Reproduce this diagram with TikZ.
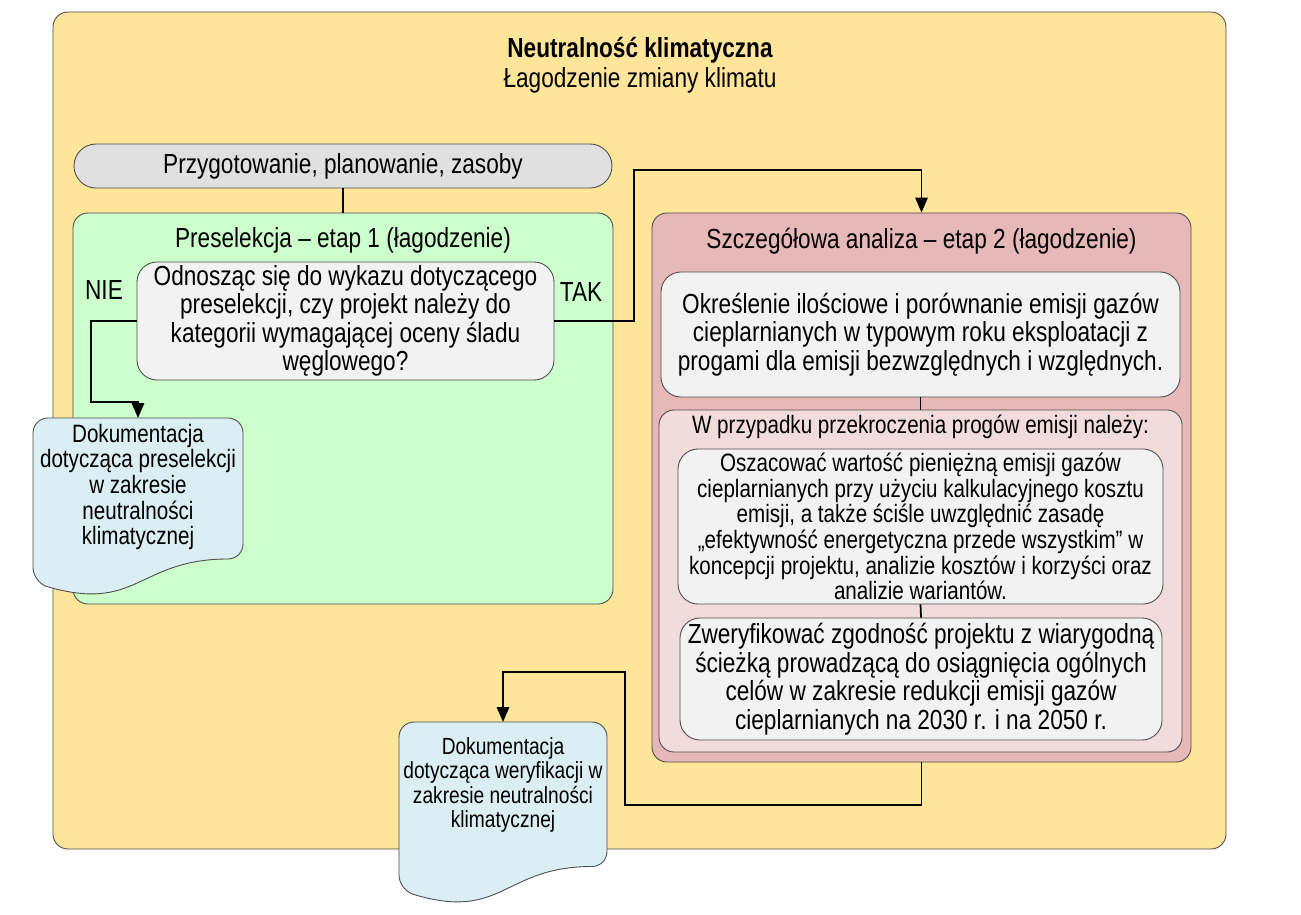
\documentclass[tikz,border=0pt]{standalone}
\usepackage{fontspec}
\setmainfont{Liberation Sans}[FakeStretch=0.82]
\usepackage{xcolor}
\usepackage{tikz}
\usetikzlibrary{positioning, arrows.meta, calc}

\definecolor{climatefill}{HTML}{FFE599}
\definecolor{prepfill}{HTML}{E0E0E0}
\definecolor{stage1fill}{HTML}{CCFFCC}
\definecolor{stage2fill}{HTML}{E6B9B8}
\definecolor{stepsfill}{HTML}{F2DCDB}
\definecolor{boxfill}{HTML}{F2F2F2}
\definecolor{docfill}{HTML}{DBEEF4}

\begin{document}
\begin{tikzpicture}[
    >={Triangle[length=0.3cm, width=0.25cm]},
    titletext/.style={font=\fontsize{15.7}{16.2}\selectfont\bfseries},
    bigtext/.style={font=\fontsize{15.7}{16.2}\selectfont},
    midtext/.style={font=\fontsize{14.3}{14.6}\selectfont},
    smalltext/.style={font=\fontsize{13.3}{14}\selectfont},
    panel/.style={rectangle, draw=gray!60!black, line width=0.5pt, rounded corners=0.3cm, inner sep=0pt},
    outerpanel/.style={panel, fill=climatefill},
    preppanel/.style={panel, fill=prepfill, rounded corners=0.44cm},
    stage1panel/.style={panel, fill=stage1fill},
    stage2panel/.style={panel, fill=stage2fill},
    stepspanel/.style={panel, fill=stepsfill},
    textbox/.style={panel, fill=boxfill, rounded corners=0.4cm, align=center},
    docsheet/.style={draw=gray!60!black, line width=0.5pt, fill=docfill, rounded corners=0.3cm},
    link/.style={line width=1pt}
]
\useasboundingbox (0,0) rectangle (26.02,-18.28);

% Outer frame and title
\node[outerpanel, minimum width=23.46cm, minimum height=16.74cm] (climate) at (12.79,-8.61) {};
\node[titletext] (title) at (12.8,-1.0) {Neutralność klimatyczna};
\node[bigtext] (subtitle) at (12.8,-1.6) {Łagodzenie zmiany klimatu};

% Preparation
\node[preppanel, bigtext, minimum width=10.76cm, minimum height=0.88cm] (prep) at (6.86,-3.32) {Przygotowanie, planowanie, zasoby};

% Stage 1
\node[stage1panel, minimum width=10.8cm, minimum height=7.82cm] (stage1) at (6.86,-8.17) {};
\node[bigtext] (stage1title) at (6.86,-4.8) {Preselekcja – etap 1 (łagodzenie)};
\node[textbox, bigtext, minimum width=8.34cm, minimum height=2.36cm] (question) at (6.91,-6.42)
    {Odnosząc się do wykazu dotyczącego\\ preselekcji, czy projekt należy do\\ kategorii wymagającej oceny śladu\\ węglowego?};
\node[bigtext] (nie) at (2.08,-5.8) {NIE};
\node[bigtext] (tak) at (11.62,-5.84) {TAK};

% Stage 2
\node[stage2panel, minimum width=10.78cm, minimum height=10.98cm] (stage2) at (18.43,-9.75) {};
\node[bigtext] (stage2title) at (18.43,-4.82) {Szczegółowa analiza – etap 2 (łagodzenie)};
\node[textbox, bigtext, minimum width=10.38cm, minimum height=2.5cm] (quant) at (18.41,-6.69)
    {Określenie ilościowe i porównanie emisji gazów\\ cieplarnianych w typowym roku eksploatacji z\\ progami dla emisji bezwzględnych i względnych.};
\node[stepspanel, minimum width=10.46cm, minimum height=6.84cm] (steps) at (18.41,-11.62) {};
\node[midtext] (stepstitle) at (18.41,-8.54) {W przypadku przekroczenia progów emisji należy:};
\node[textbox, midtext, minimum width=9.7cm, minimum height=3.1cm] (cost) at (18.41,-10.53)
    {Oszacować wartość pieniężną emisji gazów\\ cieplarnianych przy użyciu kalkulacyjnego kosztu\\ emisji, a także ściśle uwzględnić zasadę\\ „efektywność energetyczna przede wszystkim” w\\ koncepcji projektu, analizie kosztów i korzyści oraz\\ analizie wariantów.};
\node[textbox, bigtext, minimum width=9.64cm, minimum height=2.44cm] (verify) at (18.42,-13.58)
    {Zweryfikować zgodność projektu z wiarygodną\\ ścieżką prowadzącą do osiągnięcia ogólnych\\ celów w zakresie redukcji emisji gazów\\ cieplarnianych na 2030 r. i na 2050 r.};

% Documentation sheets
\coordinate (doc1top) at (2.76,-8.36);
\filldraw[docsheet] ($(doc1top)+(-2.1,0)$) -- ($(doc1top)+(2.1,0)$) -- ($(doc1top)+(2.1,-2.82)$)
    .. controls ($(doc1top)+(0,-2.82)$) and ($(doc1top)+(0,-3.9)$) .. ($(doc1top)+(-2.1,-3.29)$) -- cycle;
\node[midtext, align=center] (doc1) at (2.76,-9.74)
    {Dokumentacja\\ dotycząca preselekcji\\ w zakresie\\ neutralności\\ klimatycznej};

\coordinate (doc2top) at (10.06,-14.44);
\filldraw[docsheet] ($(doc2top)+(-2.08,0)$) -- ($(doc2top)+(2.08,0)$) -- ($(doc2top)+(2.08,-2.89)$)
    .. controls ($(doc2top)+(0,-2.89)$) and ($(doc2top)+(0,-3.99)$) .. ($(doc2top)+(-2.08,-3.36)$) -- cycle;
\node[smalltext, align=center] (doc2) at (10.06,-15.7)
    {Dokumentacja\\ dotycząca weryfikacji w\\ zakresie neutralności\\ klimatycznej};

% Connectors
\draw[link] (prep.south) -- (stage1.north);
\coordinate (nieturn) at (1.82,-8.04);
\draw[link, ->] (question.west) -| (nieturn) -| (doc1top);
\coordinate (takturn) at (12.68,-3.4);
\draw[link, ->] (question.east) -| (takturn) -| (stage2.north);
\draw[link] (quant.south) -- (steps.north);
\draw[link] (cost.south) -- (verify.north);
\coordinate (retdown) at (12.5,-16.1);
\coordinate (retleft) at (10.06,-13.44);
\draw[link, ->] (stage2.south) |- (retdown) |- (retleft) -- (doc2top);

\end{tikzpicture}
\end{document}
